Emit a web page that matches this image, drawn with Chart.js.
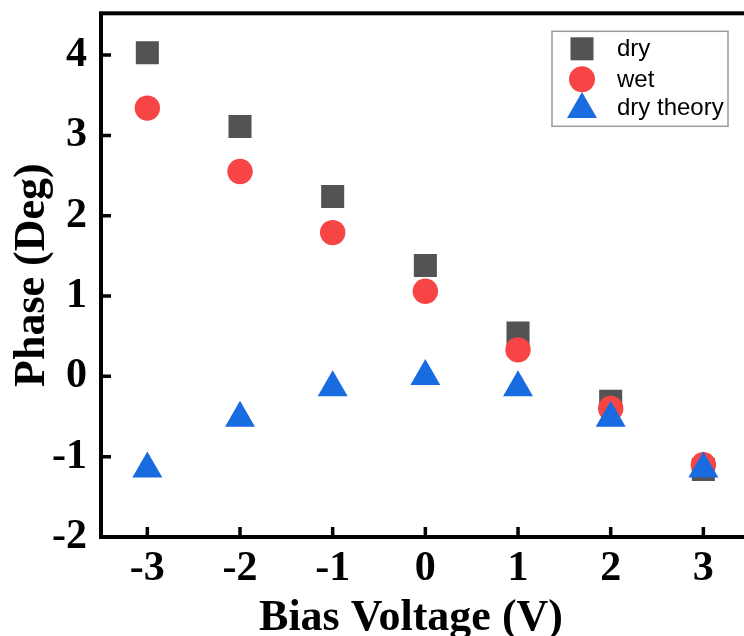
<!DOCTYPE html>
<html>
<head>
<meta charset="utf-8">
<script src="https://cdn.jsdelivr.net/npm/chart.js@4.4.0/dist/chart.umd.min.js"></script>
<style>
  html, body { margin: 0; padding: 0; background: #fff; overflow: hidden; }
  #wrap { width: 767px; height: 640px; margin-top: -4px; }
</style>
</head>
<body>
<div id="wrap"><canvas id="chart" width="767" height="640"></canvas></div>
<script>
// bias voltages (V)
const voltages = [-3, -2, -1, 0, 1, 2, 3];
// phase values (deg)
const dryPhase = [4.03, 3.11, 2.24, 1.38, 0.54, -0.31, -1.16];
const wetPhase = [3.34, 2.55, 1.79, 1.06, 0.33, -0.40, -1.10];
const theoryPhase = [-1.15, -0.52, -0.14, 0.00, -0.14, -0.52, -1.15];

const xTicks = [-3, -2, -1, 0, 1, 2, 3];
const yTicks = [-2, -1, 0, 1, 2, 3, 4];

const seriesNames = ['dry', 'wet', 'dry theory'];
const seriesColors = ['#535353', '#f74545', '#196be0'];

const toPoints = ys => voltages.map((v, i) => ({ x: v, y: ys[i] }));

const tickFont = { family: 'Liberation Serif', size: 42, weight: 'bold' };

// frame, inward ticks, axis titles and legend box
const decorations = {
  id: 'decorations',
  afterDraw(chart) {
    const ctx = chart.ctx;
    const a = chart.chartArea;
    const xs = chart.scales.x, ys = chart.scales.y;
    ctx.save();
    ctx.strokeStyle = '#000';
    ctx.lineWidth = 4;
    ctx.strokeRect(a.left, a.top, a.right - a.left, a.bottom - a.top);

    // inward ticks
    ctx.lineWidth = 3.5;
    ctx.beginPath();
    xs.ticks.forEach(t => {
      const px = xs.getPixelForValue(t.value);
      ctx.moveTo(px, a.bottom);
      ctx.lineTo(px, a.bottom - 10);
    });
    ys.ticks.forEach(t => {
      const py = ys.getPixelForValue(t.value);
      ctx.moveTo(a.left, py);
      ctx.lineTo(a.left + 10, py);
    });
    ctx.stroke();

    // axis titles
    ctx.fillStyle = '#000';
    ctx.font = 'bold 44px "Liberation Serif"';
    ctx.textAlign = 'center';
    ctx.textBaseline = 'alphabetic';
    ctx.fillText('Bias Voltage (V)', 411, a.bottom + 93);
    ctx.translate(44, (a.top + a.bottom) / 2);
    ctx.rotate(-Math.PI / 2);
    ctx.fillText('Phase (Deg)', 0, 0);
    ctx.restore();

    // legend
    ctx.save();
    const lx = 552, ly = a.top + 18;
    ctx.strokeStyle = '#9a9a9a';
    ctx.lineWidth = 1.5;
    ctx.strokeRect(lx, ly, 176, 95);
    ctx.font = '24px "Liberation Sans"';
    ctx.textAlign = 'left';
    ctx.textBaseline = 'alphabetic';
    const rows = [ly + 17.5, ly + 48, ly + 78];
    const mx = 582;
    // square
    ctx.fillStyle = seriesColors[0];
    ctx.fillRect(mx - 11.5, rows[0] - 11.5, 23, 23);
    // circle
    ctx.fillStyle = seriesColors[1];
    ctx.beginPath();
    ctx.arc(mx, rows[1], 13, 0, Math.PI * 2);
    ctx.fill();
    // triangle
    const r = 17.3;
    ctx.fillStyle = seriesColors[2];
    ctx.beginPath();
    ctx.moveTo(mx, rows[2] - r);
    ctx.lineTo(mx + r * Math.sqrt(3) / 2, rows[2] + r / 2);
    ctx.lineTo(mx - r * Math.sqrt(3) / 2, rows[2] + r / 2);
    ctx.closePath();
    ctx.fill();
    ctx.fillStyle = '#000';
    const baselines = [ly + 25, ly + 56, ly + 84];
    seriesNames.forEach((n, i) => ctx.fillText(n, 617, baselines[i]));
    ctx.restore();
  }
};

new Chart(document.getElementById('chart'), {
  type: 'scatter',
  data: {
    datasets: [
      {
        label: seriesNames[0],
        data: toPoints(dryPhase),
        pointStyle: 'rect',
        pointRadius: 16.3,
        pointBorderWidth: 0,
        backgroundColor: seriesColors[0],
        order: 3
      },
      {
        label: seriesNames[1],
        data: toPoints(wetPhase),
        pointStyle: 'circle',
        pointRadius: 12.7,
        pointBorderWidth: 0,
        backgroundColor: seriesColors[1],
        order: 2
      },
      {
        label: seriesNames[2],
        data: toPoints(theoryPhase),
        pointStyle: 'triangle',
        pointRadius: 17.3,
        pointBorderWidth: 0,
        backgroundColor: seriesColors[2],
        order: 1
      }
    ]
  },
  options: {
    responsive: false,
    animation: false,
    layout: { padding: 0 },
    plugins: {
      legend: { display: false },
      tooltip: { enabled: false }
    },
    scales: {
      x: {
        type: 'linear',
        min: -3.5,
        max: 3.5,
        grid: { display: false },
        border: { display: false },
        afterBuildTicks: s => { s.ticks = xTicks.map(v => ({ value: v })); },
        afterFit: s => { s.height = 99; s.paddingLeft = 0; s.paddingRight = 0; },
        ticks: { font: tickFont, color: '#000', padding: -1, maxRotation: 0 }
      },
      y: {
        type: 'linear',
        min: -2,
        max: 4.52,
        grid: { display: false },
        border: { display: false },
        afterBuildTicks: s => { s.ticks = yTicks.map(v => ({ value: v })); },
        afterFit: s => { s.width = 101; s.paddingTop = 0; s.paddingBottom = 0; },
        ticks: { font: tickFont, color: '#000', padding: 6 }
      }
    }
  },
  plugins: [decorations]
});
</script>
</body>
</html>
